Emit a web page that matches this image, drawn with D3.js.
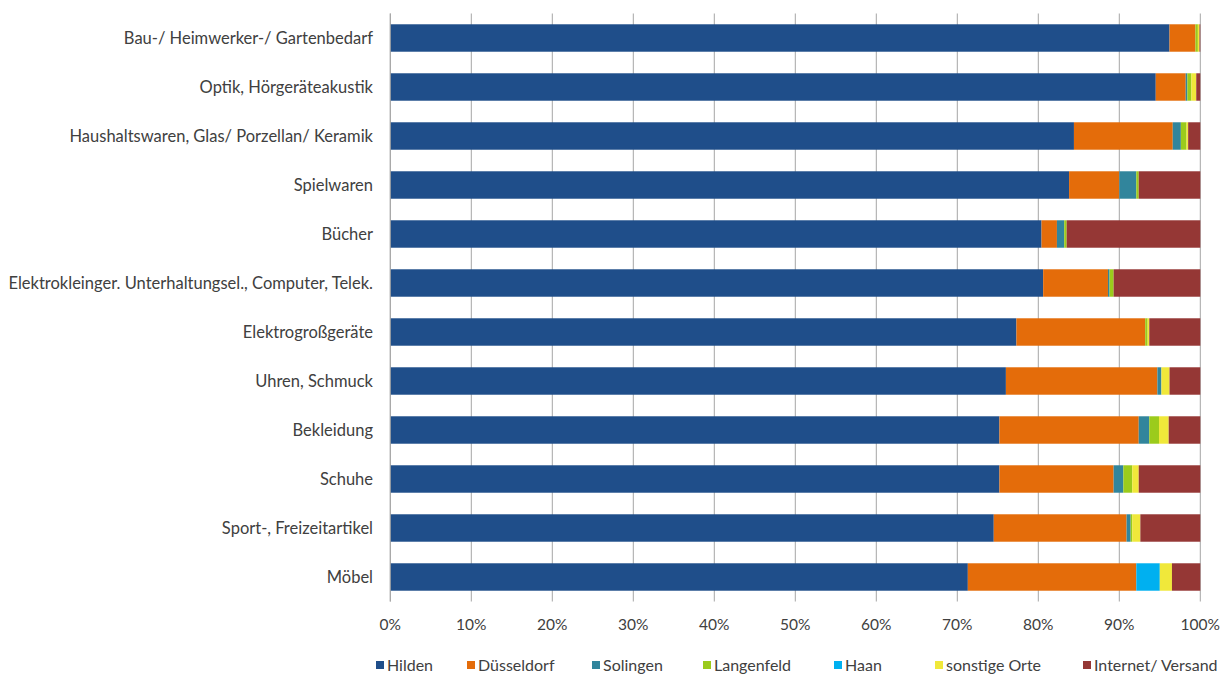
<!DOCTYPE html>
<html>
<head>
<meta charset="utf-8">
<script src="https://cdn.jsdelivr.net/npm/d3@7"></script>
<style>
  html, body { margin: 0; padding: 0; background: #fff; }
  svg text { font-family: Lato, "Open Sans", sans-serif; fill: #404040; }
</style>
</head>
<body>
<svg id="chart" width="1224" height="674"></svg>
<script>
// Branchen (top to bottom)
const categories = [
  "Bau-/ Heimwerker-/ Gartenbedarf",
  "Optik, Hörgeräteakustik",
  "Haushaltswaren, Glas/ Porzellan/ Keramik",
  "Spielwaren",
  "Bücher",
  "Elektrokleinger. Unterhaltungsel., Computer, Telek.",
  "Elektrogroßgeräte ",
  "Uhren, Schmuck",
  "Bekleidung",
  "Schuhe",
  "Sport-, Freizeitartikel",
  "Möbel"
];

// Einkaufsorte (series)
const seriesNames = ["Hilden", "Düsseldorf", "Solingen", "Langenfeld", "Haan", "sonstige Orte", "Internet/ Versand"];

// Share per Branche, in %
const hilden     = [96.2, 94.5, 84.4, 83.8, 80.4, 80.6, 77.3, 76.0, 75.2, 75.2, 74.5, 71.3];
const duesseldorf= [ 3.2,  3.7, 12.2,  6.2,  1.9,  8.0, 15.9, 18.7, 17.2, 14.1, 16.4, 20.8];
const solingen   = [ 0.0,  0.2,  1.0,  2.1,  0.9,  0.2,  0.0,  0.5,  1.3,  1.2,  0.5,  0.0];
const langenfeld = [ 0.3,  0.5,  0.7,  0.3,  0.3,  0.5,  0.3,  0.0,  1.2,  1.1,  0.2,  0.0];
const haan       = [ 0.0,  0.0,  0.0,  0.0,  0.0,  0.0,  0.0,  0.0,  0.0,  0.0,  0.0,  2.9];
const sonstige   = [ 0.2,  0.6,  0.2,  0.0,  0.0,  0.0,  0.2,  1.0,  1.2,  0.8,  1.0,  1.5];
const internet   = [ 0.1,  0.5,  1.5,  7.6, 16.5, 10.7,  6.3,  3.8,  3.9,  7.6,  7.4,  3.5];

const tickValues = [0, 0.1, 0.2, 0.3, 0.4, 0.5, 0.6, 0.7, 0.8, 0.9, 1.0];

const colors = ["#1f4e8a", "#e46c0a", "#31859c", "#9bcb1c", "#00b0f0", "#f0e83a", "#953735"];

const seriesValues = [hilden, duesseldorf, solingen, langenfeld, haan, sonstige, internet];
const rows = categories.map((c, i) => {
  const r = { category: c };
  seriesNames.forEach((s, j) => { r[s] = seriesValues[j][i]; });
  return r;
});

const stack = d3.stack().keys(seriesNames).offset(d3.stackOffsetExpand);
const layers = stack(rows);

const svg = d3.select("#chart");

const x = d3.scaleLinear().domain([0, 1]).range([390.3, 1200.3]);
const y = d3.scaleBand().domain(categories).range([13.5, 601.5])
  .paddingInner(0.44).paddingOuter(0.22);

// vertical gridlines
svg.append("g")
  .selectAll("line")
  .data(tickValues)
  .join("line")
  .attr("x1", d => x(d)).attr("x2", d => x(d))
  .attr("y1", 13.5).attr("y2", 601.5)
  .attr("stroke", "#a6a6a6")
  .attr("stroke-width", 1);

// stacked bars
svg.append("g")
  .selectAll("g")
  .data(layers)
  .join("g")
  .attr("fill", (d, i) => colors[i])
  .selectAll("rect")
  .data(d => d)
  .join("rect")
  .attr("x", d => x(d[0]))
  .attr("width", d => Math.max(0, x(d[1]) - x(d[0])))
  .attr("y", d => y(d.data.category))
  .attr("height", y.bandwidth());

// left axis line
svg.append("line")
  .attr("x1", x(0)).attr("x2", x(0))
  .attr("y1", 13.5).attr("y2", 601.5)
  .attr("stroke", "#a6a6a6");

// category labels
svg.append("g")
  .selectAll("text")
  .data(categories)
  .join("text")
  .attr("x", 373)
  .attr("y", d => y(d) + y.bandwidth() / 2)
  .attr("dy", "0.35em")
  .attr("text-anchor", "end")
  .attr("font-size", 16.5)
  .text(d => d);

// percentage tick labels
const fmt = d3.format(".0%");
svg.append("g")
  .selectAll("text")
  .data(tickValues)
  .join("text")
  .attr("x", d => x(d))
  .attr("y", 625)
  .attr("dy", "0.35em")
  .attr("text-anchor", "middle")
  .attr("font-size", 15.5)
  .text(d => fmt(d));

// legend
const legendX = [376, 467, 592, 703, 834, 935, 1083];
const legend = svg.append("g")
  .selectAll("g")
  .data(seriesNames)
  .join("g")
  .attr("transform", (d, i) => `translate(${legendX[i]},665)`);
legend.append("rect")
  .attr("x", 0).attr("y", -4)
  .attr("width", 8).attr("height", 8)
  .attr("fill", (d, i) => colors[i]);
legend.append("text")
  .attr("x", 11)
  .attr("dy", "0.35em")
  .attr("font-size", 16)
  .text(d => d);
</script>
</body>
</html>
